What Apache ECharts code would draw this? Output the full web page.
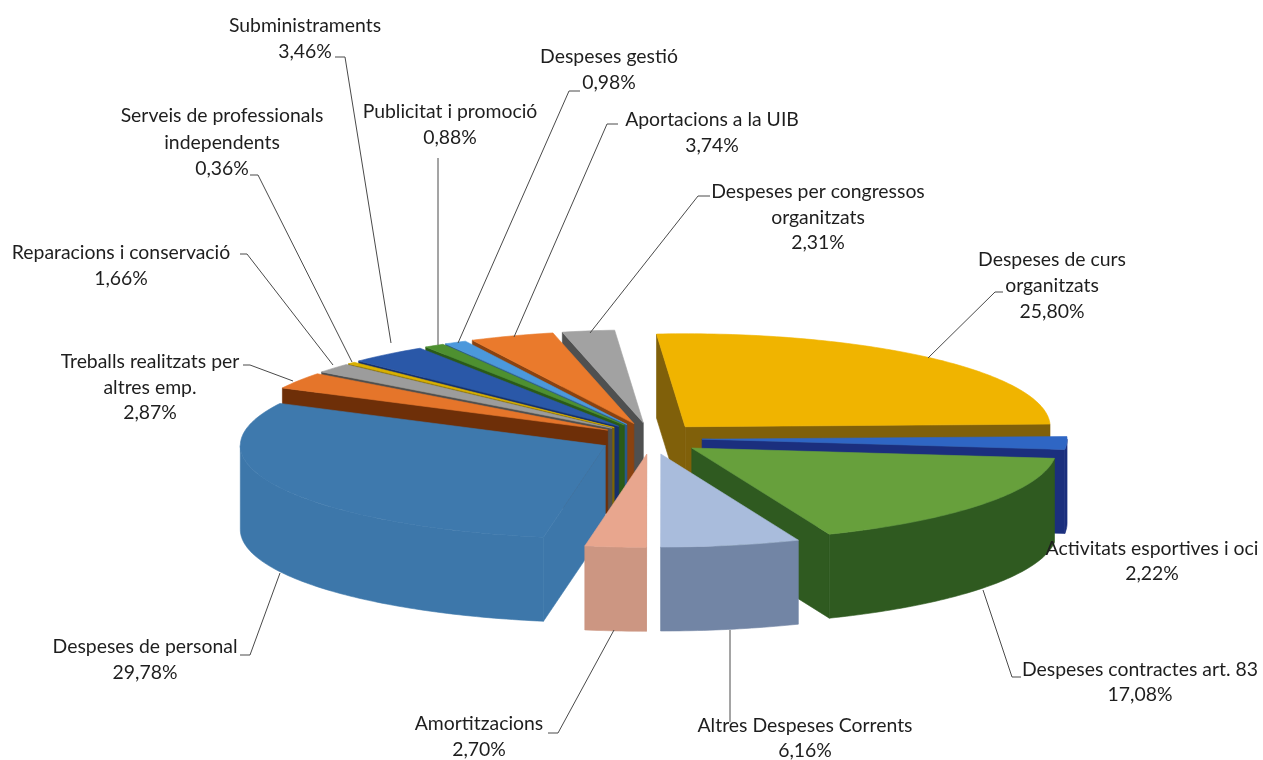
<!DOCTYPE html>
<html>
<head>
<meta charset="utf-8">
<style>html,body{margin:0;padding:0;background:#fff}#c{width:1263px;height:760px}</style>
<script src="https://cdn.jsdelivr.net/npm/echarts@6/dist/echarts.min.js"></script>
</head>
<body>
<div id="c"></div>
<script>
// ---- data, clockwise from the top of the pie ----
const categories = ["Despeses de curs organitzats","Activitats esportives i oci","Despeses contractes art. 83","Altres Despeses Corrents","Amortitzacions","Despeses de personal","Treballs realitzats per altres emp.","Reparacions i conservació","Serveis de professionals independents","Subministraments","Publicitat i promoció","Despeses gestió","Aportacions a la UIB","Despeses per congressos organitzats"];
const values = [25.80,2.22,17.08,6.16,2.70,29.78,2.87,1.66,0.36,3.46,0.88,0.98,3.74,2.31];
const topColors = ["#f0b400","#2f66c4","#67a03c","#a9bcdc","#e8a68e","#3e79ad","#e5752a","#9c9c9c","#d9b000","#2a58a8","#4e9030","#4b98dc","#ea7a2c","#a2a2a2"];
const wallColors = ["#80600a","#1b2f7e","#2f5a20","#7285a5","#cc9682","#3d77aa","#6e2f08","#4f4f4f","#7d6500","#17306a","#2a5a18","#2a5a8a","#8a4210","#4f5050"];

// ---- pie geometry ----
const CX = 651, CY = 438.5, RX = 365, RY = 93, DEPTH = 84, EXPLODE_X = 0.14, EXPLODE_Y = 0.17, START_DEG = -4.5;

// ---- label layout: text lines, centre x, first line y, line gap, leader polyline ----
const labelLayout = [
  {i:0, lines:["Despeses de curs","organitzats","25,80%"], x:1052, y:260, gap:26, leader:[[1003,292],[995,292],[928,358]]},
  {i:1, lines:["Activitats esportives i oci","2,22%"], x:1152, y:549, gap:25},
  {i:2, lines:["Despeses contractes art. 83","17,08%"], x:1140, y:670, gap:25, leader:[[1021,677],[1012,677],[983,590]]},
  {i:3, lines:["Altres Despeses Corrents","6,16%"], x:805, y:726, gap:25, leader:[[730,630],[730,722]]},
  {i:4, lines:["Amortitzacions","2,70%"], x:479, y:724, gap:26, leader:[[548,733],[558,733],[614,630]]},
  {i:5, lines:["Despeses de personal","29,78%"], x:145, y:647, gap:26, leader:[[240,655],[250,655],[280,573]]},
  {i:6, lines:["Treballs realitzats per","altres emp.","2,87%"], x:150, y:362, gap:25.5, leader:[[243,365],[250,365],[293,381]]},
  {i:7, lines:["Reparacions i conservació","1,66%"], x:121, y:253, gap:26, leader:[[240,254],[247,254],[333,365]]},
  {i:8, lines:["Serveis de professionals","independents","0,36%"], x:222, y:116, gap:26.5, leader:[[250,175],[258,175],[352,362]]},
  {i:9, lines:["Subministraments","3,46%"], x:305, y:26, gap:26, leader:[[335,57],[345,57],[391,343]]},
  {i:10, lines:["Publicitat i promoció","0,88%"], x:450, y:112, gap:26, leader:[[438,158],[438,345]]},
  {i:11, lines:["Despeses gestió","0,98%"], x:609, y:57, gap:26, leader:[[580,91],[569,91],[458,343]]},
  {i:12, lines:["Aportacions a la UIB","3,74%"], x:712, y:120, gap:26, leader:[[618,124],[607,124],[514,337]]},
  {i:13, lines:["Despeses per congressos","organitzats","2,31%"], x:818, y:192, gap:25.5, leader:[[710,196],[698,196],[590,333]]}
];

// ---- compute slices from the values ----
const total = values.reduce((a,b)=>a+b,0);
let acc = 0;
const slices = values.map((v,i)=>{
  const a1 = START_DEG + acc/total*360; acc += v;
  const a2 = START_DEG + acc/total*360;
  const mid = (a1+a2)/2*Math.PI/180;
  return {i, v, a1:a1*Math.PI/180, a2:a2*Math.PI/180, mid,
    ax: CX + EXPLODE_X*RX*Math.sin(mid), ay: CY - EXPLODE_Y*RY*Math.cos(mid)};
});
// painter's order: back slices first
const drawOrder = slices.slice().sort((p,q)=>Math.cos(q.mid)-Math.cos(p.mid));

function pt(s,a,dy){ return [s.ax+RX*Math.sin(a), s.ay-RY*Math.cos(a)+(dy||0)]; }
function arcPts(s,a1,a2,dy){
  const n = Math.max(2,Math.ceil(Math.abs(a2-a1)/(Math.PI/180))), r=[];
  for(let k=0;k<=n;k++) r.push(pt(s,a1+(a2-a1)*k/n,dy));
  return r;
}
function poly(points,fill,stroke){
  return {type:'polygon',shape:{points},style:{fill,stroke:stroke||fill,lineWidth:0.6}};
}
function renderSlice(params){
  const s = drawOrder[params.dataIndex];
  const wall = wallColors[s.i], children=[];
  const apex=[s.ax,s.ay], apexB=[s.ax,s.ay+DEPTH];
  const radial = a => poly([apex,pt(s,a),pt(s,a,DEPTH),apexB],wall);
  // radial cut faces that look toward the viewer
  if(Math.sin(s.a1)<0) children.push(radial(s.a1));
  if(Math.sin(s.a2)>0) children.push(radial(s.a2));
  // outer rim: the part on the near half of the ellipse
  const twoPi=2*Math.PI;
  for(let k=-1;k<=1;k++){
    const lo=Math.max(s.a1,Math.PI/2+k*twoPi), hi=Math.min(s.a2,3*Math.PI/2+k*twoPi);
    if(hi>lo){
      children.push(poly(arcPts(s,lo,hi,0).concat(arcPts(s,hi,lo,DEPTH)),wall));
    }
  }
  // top face
  children.push(poly([apex].concat(arcPts(s,s.a1,s.a2,0)),topColors[s.i]));
  return {type:'group',children};
}

const graphics=[];
labelLayout.forEach(l=>{
  l.lines.forEach((t,k)=>graphics.push({type:'text',z:10,style:{text:t,x:l.x,y:l.y+k*l.gap,align:'center',verticalAlign:'middle',
    fill:'#1e1e1e',font:'19.4px Lato, "Open Sans", sans-serif'}}));
  if(l.leader) graphics.push({type:'polyline',z:9,shape:{points:l.leader},style:{fill:'none',stroke:'#4a4a4a',lineWidth:1}});
});

const chart=echarts.init(document.getElementById('c'),null,{renderer:'canvas'});
chart.setOption({
  animation:false,
  backgroundColor:'#ffffff',
  graphic:graphics,
  series:[{
    type:'custom',
    coordinateSystem:'none',
    silent:true,
    renderItem:renderSlice,
    data:drawOrder.map(s=>({name:categories[s.i],value:s.v}))
  }]
});
</script>
</body>
</html>
